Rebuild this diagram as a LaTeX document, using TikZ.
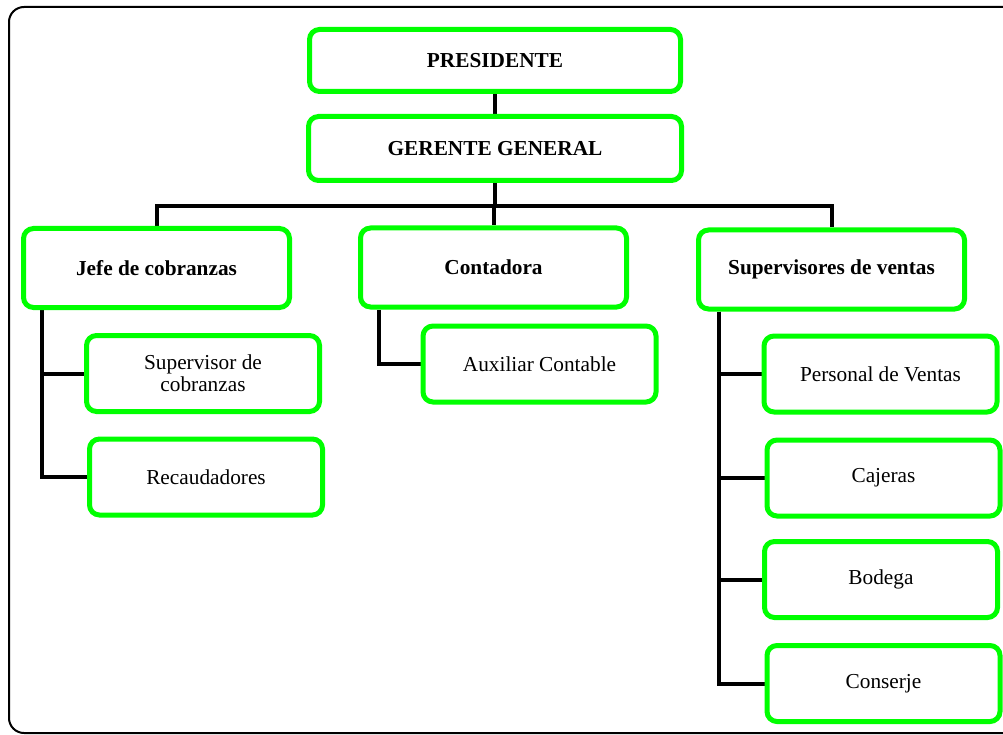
\documentclass[tikz,border=0pt]{standalone}
\usepackage{fontspec}
\setmainfont{Liberation Serif}
\usetikzlibrary{calc,backgrounds}
\definecolor{org_green}{RGB}{0, 255, 0}
\tikzstyle{cargo}=[rectangle,rounded corners=10pt,fill=white,draw=org_green,
  line width=5pt,inner sep=3pt,minimum width=266pt,minimum height=79pt,
  font=\fontsize{21.3}{21.7}\selectfont\bfseries]
\tikzstyle{puesto}=[rectangle,rounded corners=10pt,fill=white,draw=org_green,
  line width=5pt,inner sep=3pt,minimum width=233pt,minimum height=76pt,
  align=center,font=\fontsize{21.3}{21.7}\selectfont]
\tikzstyle{linea}=[draw=black,line width=4pt]

\begin{document}
\begin{tikzpicture}[x=1pt, y=-1pt]
            \useasboundingbox (0, 0) rectangle (1003, 735);
            \draw [line width=2pt, rounded corners=15pt] (9, 7) rectangle (1060, 733);
            \node [style=cargo, minimum width=371pt, minimum height=62pt] (0) at (495, 60.5) {PRESIDENTE};
            \node [style=cargo, minimum width=373pt, minimum height=64pt] (1) at (495, 148.5) {GERENTE GENERAL};
            \node [style=cargo] (2) at (156.5, 268) {Jefe de cobranzas};
            \node [style=cargo] (3) at (493.5, 267.5) {Contadora};
            \node [style=cargo] (4) at (831.5, 269.5) {Supervisores de ventas};
            \node [style=puesto] (5) at (203, 373.5) {Supervisor de\\cobranzas};
            \node [style=puesto] (6) at (206, 477) {Recaudadores};
            \node [style=puesto] (7) at (539.5, 364) {Auxiliar Contable};
            \node [style=puesto] (8) at (880.5, 374) {Personal de Ventas};
            \node [style=puesto] (9) at (883.5, 478) {Cajeras};
            \node [style=puesto] (10) at (881, 579.5) {Bodega};
            \node [style=puesto] (11) at (883.5, 683.5) {Conserje};
            \coordinate (b) at (495, 206);
            \begin{pgfonlayer}{background}
            \draw [style=linea] (0) to (1);
            \draw [style=linea] (1.south) to (1.south |- b);
            \draw [style=linea] (2.north) |- (b) -| (4.north);
            \draw [style=linea] (3.north) to (3.north |- b);
            \draw [style=linea] ($(2.south west)+(21, 0)$) |- (5.west);
            \draw [style=linea] ($(2.south west)+(21, 0)$) |- (6.west);
            \draw [style=linea] ($(3.south west)+(21, 0)$) |- (7.west);
            \draw [style=linea] ($(4.south west)+(23, 0)$) |- (8.west);
            \draw [style=linea] ($(4.south west)+(23, 0)$) |- (9.west);
            \draw [style=linea] ($(4.south west)+(23, 0)$) |- (10.west);
            \draw [style=linea] ($(4.south west)+(23, 0)$) |- (11.west);
            \end{pgfonlayer}
    \end{tikzpicture}
\end{document}
